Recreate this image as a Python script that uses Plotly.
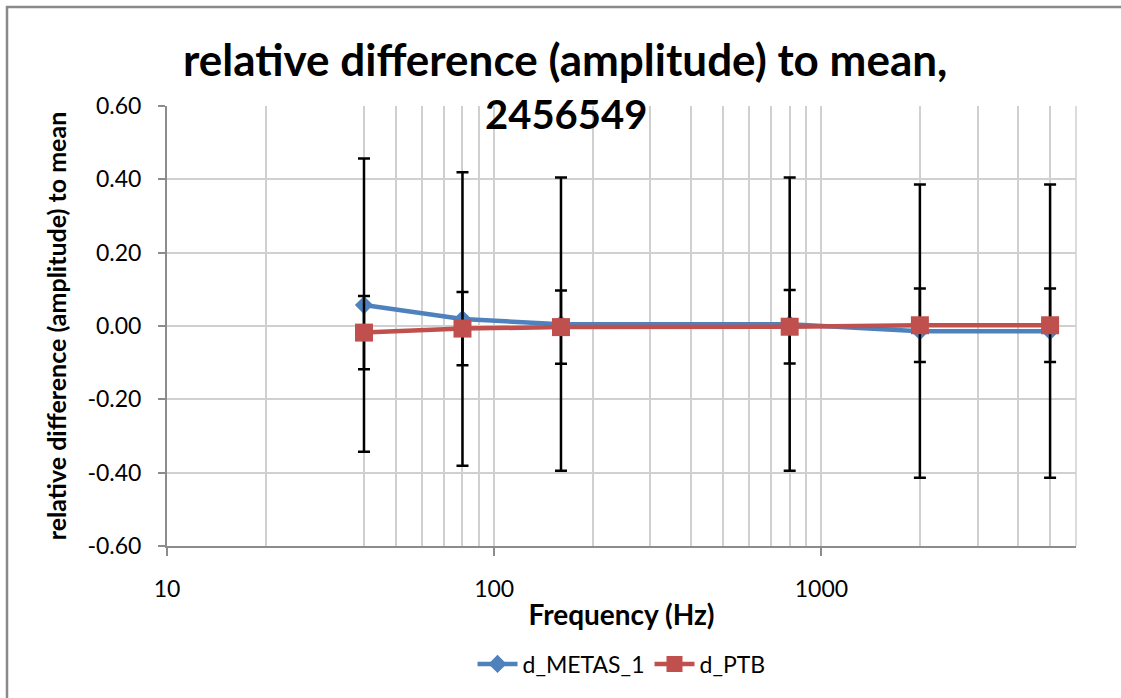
import math
import plotly.graph_objects as go

# ---- data ----
freq = [40, 80, 160, 800, 2000, 5000]
metas = [0.057, 0.019, 0.005, 0.005, -0.014, -0.014]
metas_err = [0.40, 0.40, 0.40, 0.40, 0.40, 0.40]
ptb = [-0.018, -0.007, -0.003, -0.002, 0.002, 0.002]
ptb_err = [0.10, 0.10, 0.10, 0.10, 0.10, 0.10]
y_ticks = [-0.6, -0.4, -0.2, 0.0, 0.2, 0.4, 0.6]
y_ticktext = ["-0.60", "-0.40", "-0.20", "0.00", "0.20", "0.40", "0.60"]
x_ticks = [10, 100, 1000]
x_ticktext = ["10", "100", "1000"]
x_minor_grid = [20, 40, 50, 60, 70, 80, 90, 200, 300, 400, 500, 600, 700, 800, 900,
                2000, 3000, 4000, 5000]
x_max = 6000

FONT = "Lato"
GRID = "#d0d0d0"
AXIS = "#8c8c8c"

fig = go.Figure()
fig.add_trace(go.Scatter(
    x=freq, y=metas, name="d_METAS_1", mode="lines+markers",
    line=dict(color="#4F81BD", width=4.5),
    marker=dict(symbol="diamond", size=14, color="#4F81BD"),
    error_y=dict(type="data", array=metas_err, color="black", thickness=2.5, width=6),
))
fig.add_trace(go.Scatter(
    x=freq, y=ptb, name="d_PTB", mode="lines+markers",
    line=dict(color="#C0504D", width=4.5),
    marker=dict(symbol="square", size=18, color="#C0504D"),
    error_y=dict(type="data", array=ptb_err, color="black", thickness=2.5, width=6),
))

L, R, T, B = 167, 45, 106, 152
W, H = 1121, 698
pw, ph = W - L - R, H - T - B

def px_x(p):
    return (p - L) / pw

def px_y(p):
    return (H - B - p) / ph

fig.update_layout(
    width=W, height=H,
    margin=dict(l=L, r=R, t=T, b=B),
    paper_bgcolor="white", plot_bgcolor="white",
    font=dict(family=FONT, size=23, color="black"),
    showlegend=True,
    legend=dict(orientation="h", x=0.5, xanchor="center", y=px_y(664), yanchor="middle",
                font=dict(family=FONT, size=23), itemwidth=40),
    xaxis=dict(
        type="log", range=[1, math.log10(x_max)],
        tickvals=x_ticks, ticktext=x_ticktext,
        tickfont=dict(family=FONT, size=23),
        ticks="outside", ticklen=8, tickcolor=AXIS, tickwidth=1.5,
        showline=True, linecolor=AXIS, linewidth=2,
        showgrid=True, gridcolor=GRID, gridwidth=1.5,
        minor=dict(tickvals=x_minor_grid, showgrid=True, gridcolor=GRID, gridwidth=1.5, ticks=""),
        ticklabelstandoff=13,
        title=dict(text="<b>Frequency (Hz)</b>", font=dict(family=FONT, size=28), standoff=5),
        zeroline=False,
    ),
    yaxis=dict(
        range=[-0.6, 0.6], tickvals=y_ticks, ticktext=y_ticktext,
        tickfont=dict(family=FONT, size=23),
        ticks="outside", ticklen=7, tickcolor=AXIS, tickwidth=1.5,
        showline=True, linecolor=AXIS, linewidth=2,
        showgrid=True, gridcolor=GRID, gridwidth=1.5,
        zeroline=True, zerolinecolor=GRID, zerolinewidth=1.5,
        ticklabelstandoff=12,
        title=dict(text="<b>relative difference (amplitude) to mean</b>",
                   font=dict(family=FONT, size=25), standoff=14),
    ),
    shapes=[
        dict(type="line", xref="paper", yref="paper", x0=1, x1=1, y0=0, y1=1,
             line=dict(color=GRID, width=1.5), layer="below"),
        dict(type="rect", xref="paper", yref="paper",
             x0=px_x(7), x1=px_x(W + 20), y0=px_y(H + 20), y1=px_y(7),
             line=dict(color="#8a8a8a", width=2.5), layer="below"),
    ],
    annotations=[
        dict(text="<b>relative difference (amplitude) to mean,</b>", xref="paper", yref="paper",
             x=px_x(565), y=px_y(59), xanchor="center", yanchor="middle", showarrow=False,
             font=dict(family=FONT, size=44)),
        dict(text="<b>2456549</b>", xref="paper", yref="paper",
             x=px_x(566), y=px_y(114), xanchor="center", yanchor="middle", showarrow=False,
             font=dict(family=FONT, size=40)),
    ],
)

fig.write_html("out.html")
